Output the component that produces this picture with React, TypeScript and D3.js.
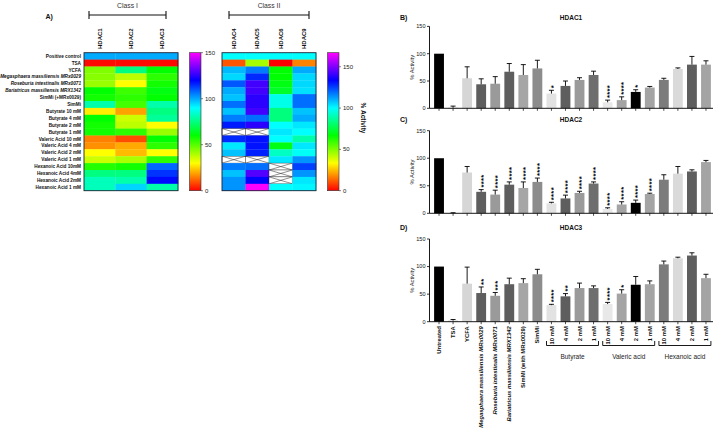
import React from 'react';
import * as d3 from 'd3';

// ---------- Heatmap data (panel A) ----------
const heatRows = [
  "Positive control", "TSA", "YCFA",
  "Megasphaera massiliensis MRx0029", "Roseburia intestinalis MRx0071", "Bariatricus massiliensis MRX1342",
  "SimMi (+MRx0029)", "SimMi",
  "Butyrate 10 mM", "Butyrate 4 mM", "Butyrate 2 mM", "Butyrate 1 mM",
  "Valeric Acid 10 mM", "Valeric Acid 4 mM", "Valeric Acid 2 mM", "Valeric Acid 1 mM",
  "Hexanoic Acid 10mM", "Hexanoic Acid 4mM", "Hexanoic Acid 2mM", "Hexanoic Acid 1 mM",
];
const italicRows = [3, 4, 5];
const classI = ["HDAC1", "HDAC2", "HDAC3"];
const classII = ["HDAC4", "HDAC5", "HDAC6", "HDAC9"];

const heatHDAC1 = [100, 1, 45, 44, 42, 60, 58, 80, 28, 60, 58, 58, 15, 17, 30, 36, 56, 75, 82, 82];
const heatHDAC2 = [100, 1, 75, 38, 30, 53, 55, 52, 19, 36, 38, 55, 9, 20, 22, 40, 58, 75, 80, 95];
const heatHDAC3 = [100, 1, 60, 55, 58, 62, 60, 80, 75, 78, 30, 42, 60, 55, 30, 55, 108, 114, 119, 80];
const heatHDAC4 = [100, 11, 109, 105, 122, 111, 108, 119, 108, 117, 130, null, 128, 103, 108, null, 117, 108, 114, 114];
const heatHDAC5 = [100, 45, 117, 128, 142, 142, 139, 139, 142, 119, 139, null, 131, 131, 129, null, 119, 144, 133, 167];
const heatHDAC6 = [100, 0, 67, 67, 69, 72, 97, 97, 83, 83, 100, 103, 100, 69, 92, 103, null, null, null, 100];
const heatHDAC9 = [100, 17, 111, 105, 105, 104, 119, 119, 108, 111, 103, 100, 89, 103, 99, 114, 125, 114, 103, 101];

const leftTicks = [0, 50, 100, 150];
const rightTicks = [0, 50, 100, 150];

// ---------- Bar chart data (panels B, C, D) ----------
const barLabels = [
  "Untreated", "TSA", "YCFA",
  "Megasphaera massiliensis MRx0029", "Roseburia intestinalis MRx0071", "Bariatricus massiliensis MRX1342",
  "SimMi (with MRx0029)", "SimMi",
  "10 mM", "4 mM", "2 mM", "1 mM",
  "10 mM", "4 mM", "2 mM", "1 mM",
  "10 mM", "4 mM", "2 mM", "1 mM",
];
const italicBars = [3, 4, 5];
const barColors = [
  "#000000", "#c8c8c8", "#d6d6d6", "#5e5e5e", "#9a9a9a", "#5e5e5e", "#a6a6a6", "#8c8c8c",
  "#e2e2e2", "#5e5e5e", "#9a9a9a", "#6e6e6e",
  "#e8e8e8", "#a4a4a4", "#000000", "#a4a4a4",
  "#7c7c7c", "#dadada", "#5e5e5e", "#a4a4a4",
];

const hdac1Mean = [100, 1, 55, 44, 45, 67, 61, 73, 27, 41, 52, 61, 11, 15, 30, 38, 52, 72, 80, 80];
const hdac1Err = [0, 3, 21, 10, 13, 15, 19, 15, 6, 9, 4, 7, 4, 6, 4, 2, 3, 2, 15, 7];
const hdac1Sig = ["", "", "", "", "", "", "", "", "*", "", "", "", "****", "****", "*", "", "", "", "", ""];

const hdac2Mean = [100, 0.5, 74, 39, 34, 52, 46, 57, 18, 27, 37, 54, 8, 16, 19, 35, 61, 72, 76, 93];
const hdac2Err = [0, 0.5, 11, 4, 8, 5, 11, 7, 2, 6, 3, 3, 2, 5, 5, 1.5, 9, 13, 3, 3];
const hdac2Sig = ["", "", "", "****", "****", "****", "****", "****", "****", "****", "****", "****", "****", "****", "****", "****", "", "", "", ""];

const hdac3Mean = [100, 2, 69, 52, 47, 68, 70, 86, 30, 46, 61, 61, 32, 51, 67, 68, 104, 115, 120, 79];
const hdac3Err = [0, 2, 30, 11, 6, 11, 8, 9, 1.5, 5, 9, 4, 3, 7, 15, 6, 6, 2, 5, 7];
const hdac3Sig = ["", "", "", "**", "***", "", "", "", "****", "**", "", "", "****", "*", "", "", "", "", "", ""];

const yTicks = [0, 50, 100, 150];
const groups = [
  { label: "Butyrate", from: 8, to: 11 },
  { label: "Valeric acid", from: 12, to: 15 },
  { label: "Hexanoic acid", from: 16, to: 19 },
];

const FONT = "'Liberation Sans', Arial, Helvetica, sans-serif";

const leftColor = (v: number) => d3.hsl(Math.max(0, Math.min(300, v * 2)), 1, 0.5).toString();
const rightColor = (v: number) => d3.hsl(Math.max(0, Math.min(300, v * 1.8)), 1, 0.5).toString();

function Heatmap({ cols, data, x, y, color }: any) {
  return (
    <g>
      {cols.map((c: string, ci: number) =>
        data[ci].map((v: number | null, ri: number) => {
          const x0 = x(c), y0 = y(ri), w = x.bandwidth(), h = y.bandwidth();
          if (v === null) {
            return (
              <g key={c + ri}>
                <rect x={x0} y={y0} width={w} height={h} fill="#fff" stroke="#222" strokeWidth={0.4} />
                <line x1={x0} y1={y0} x2={x0 + w} y2={y0 + h} stroke="#222" strokeWidth={0.5} />
                <line x1={x0} y1={y0 + h} x2={x0 + w} y2={y0} stroke="#222" strokeWidth={0.5} />
              </g>
            );
          }
          return <rect key={c + ri} x={x0} y={y0} width={w + 0.3} height={h + 0.3} fill={color(v)} />;
        })
      )}
      <rect x={x.range()[0]} y={y.range()[0]} width={x.range()[1] - x.range()[0]} height={y.range()[1] - y.range()[0]}
        fill="none" stroke="#223" strokeWidth={0.9} />
    </g>
  );
}

function ColorBar({ id, x, w, scale, color, ticks }: any) {
  const [d0, d1] = scale.domain();
  const stops = d3.range(0, 31).map((i) => i / 30);
  const [yb, yt] = scale.range();
  return (
    <g>
      <defs>
        <linearGradient id={id} x1="0" y1="1" x2="0" y2="0">
          {stops.map((s) => (
            <stop key={s} offset={s} stopColor={color(d0 + s * (d1 - d0))} />
          ))}
        </linearGradient>
      </defs>
      <rect x={x} y={yt} width={w} height={yb - yt} fill={`url(#${id})`} stroke="#333" strokeWidth={0.6} />
      {ticks.map((t: number) => (
        <g key={t}>
          <line x1={x + w} x2={x + w + 2} y1={scale(t)} y2={scale(t)} stroke="#333" strokeWidth={0.6} />
          <text x={x + w + 4} y={scale(t)} dy="0.35em" fontSize={6} fill="#222" fontFamily={FONT}>{t}</text>
        </g>
      ))}
    </g>
  );
}

function BarPanel({ y0, y150, means, errs, sig, title, letter, headY, showLabels }: any) {
  const idx = d3.range(barLabels.length).map(String);
  const x = d3.scaleBand<string>().domain(idx).range([432, 713]).paddingInner(0.3).paddingOuter(0.15);
  const y = d3.scaleLinear().domain([0, 150]).range([y0, y150]);
  const axisX = 429.5;
  return (
    <g fontFamily={FONT}>
      <text x={400} y={headY} fontSize={7} fontWeight="bold" fill="#111">{letter}</text>
      <text x={571} y={headY} fontSize={6.5} fontWeight="bold" fill="#111" textAnchor="middle">{title}</text>
      <text transform={`translate(411.5,${(y0 + y150) / 2}) rotate(-90)`} textAnchor="middle" dy="0.35em"
        fontSize={5.8} fill="#111">% Activity</text>
      {means.map((m: number, i: number) => {
        const cx = (x(String(i)) as number) + x.bandwidth() / 2;
        const topE = y(m + errs[i]);
        return (
          <g key={i}>
            <rect x={x(String(i))} y={y(m)} width={x.bandwidth()} height={y0 - y(m)} fill={barColors[i]} />
            {errs[i] > 0 && (
              <g stroke="#000" strokeWidth={0.9}>
                <line x1={cx} x2={cx} y1={y(m)} y2={topE} />
                <line x1={cx - 2.5} x2={cx + 2.5} y1={topE} y2={topE} />
              </g>
            )}
            {sig[i] && (
              <text transform={`translate(${cx},${topE - 2}) rotate(-90)`} dy="0.62em" fontSize={7.5}
                fontWeight="bold" letterSpacing={0.4} fill="#000">{sig[i]}</text>
            )}
            <line x1={cx} x2={cx} y1={y0} y2={y0 + 2.5} stroke="#000" strokeWidth={0.7} />
            {showLabels && (
              <text transform={`translate(${cx},${y0 + 4.5}) rotate(-90)`} textAnchor="end" dy="0.35em"
                fontSize={5.9} fontWeight="bold" fontStyle={italicBars.includes(i) ? 'italic' : 'normal'}
                fill="#111">{barLabels[i]}</text>
            )}
          </g>
        );
      })}
      <line x1={axisX} x2={713} y1={y0} y2={y0} stroke="#000" strokeWidth={0.9} />
      <line x1={axisX} x2={axisX} y1={y0} y2={y150} stroke="#000" strokeWidth={0.9} />
      {yTicks.map((t) => (
        <g key={t}>
          <line x1={axisX - 2.5} x2={axisX} y1={y(t)} y2={y(t)} stroke="#000" strokeWidth={0.8} />
          <text x={axisX - 4} y={y(t)} dy="0.35em" textAnchor="end" fontSize={5.5} fill="#111">{t}</text>
        </g>
      ))}
      {showLabels && groups.map((g) => {
        const xa = x(String(g.from)) as number;
        const xb = (x(String(g.to)) as number) + x.bandwidth();
        const by = 345.5;
        return (
          <g key={g.label}>
            <path d={`M${xa},${by - 4.5}V${by}H${xb}V${by - 4.5}`} fill="none" stroke="#000" strokeWidth={0.9} />
            <text x={(xa + xb) / 2} y={358.5} textAnchor="middle" fontSize={6.5} fill="#222">{g.label}</text>
          </g>
        );
      })}
    </g>
  );
}

export default function App() {
  const rowY = d3.scaleBand<number>().domain(d3.range(heatRows.length)).range([52.7, 190.7]);
  const leftX = d3.scaleBand<string>().domain(classI).range([84, 178]);
  const rightX = d3.scaleBand<string>().domain(classII).range([222, 316]);
  const leftScale = d3.scaleLinear().domain([0, 150]).range([190.7, 52.7]);
  const rightScale = d3.scaleLinear().domain([0, 167]).range([190.7, 52.7]);

  const bracket = (xa: number, xb: number, label: string) => (
    <g>
      <text x={(xa + xb) / 2} y={7.5} textAnchor="middle" fontSize={6.8} fill="#333">{label}</text>
      <path d={`M${xa},11V19M${xa},15H${xb}M${xb},11V19`} stroke="#111" strokeWidth={1.1} fill="none" />
    </g>
  );

  return (
    <div style={{ position: 'absolute', left: 0, top: 0 }}>
      <svg width={716} height={430} style={{ display: 'block', background: '#fff' }} fontFamily={FONT}>
        <rect width={716} height={430} fill="#fff" />
        {/* Panel A */}
        <text x={45.5} y={18.5} fontSize={7} fontWeight="bold" fill="#111">A)</text>
        {bracket(89, 166, "Class I")}
        {bracket(229, 309, "Class II")}
        {classI.map((c) => (
          <text key={c} transform={`translate(${(leftX(c) as number) + leftX.bandwidth() / 2},49) rotate(-90)`}
            dy="0.35em" fontSize={6} fontWeight="bold" fill="#111">{c}</text>
        ))}
        {classII.map((c) => (
          <text key={c} transform={`translate(${(rightX(c) as number) + rightX.bandwidth() / 2},49) rotate(-90)`}
            dy="0.35em" fontSize={6} fontWeight="bold" fill="#111">{c}</text>
        ))}
        {heatRows.map((r, i) => (
          <text key={r} x={81} y={(rowY(i) as number) + rowY.bandwidth() / 2} dy="0.35em" textAnchor="end"
            fontSize={4.7} fontWeight="bold" fontStyle={italicRows.includes(i) ? 'italic' : 'normal'} fill="#111">{r}</text>
        ))}
        <Heatmap cols={classI} data={[heatHDAC1, heatHDAC2, heatHDAC3]} x={leftX} y={rowY} color={leftColor} />
        <Heatmap cols={classII} data={[heatHDAC4, heatHDAC5, heatHDAC6, heatHDAC9]} x={rightX} y={rowY} color={rightColor} />
        <ColorBar id="cbL" x={189.5} w={11.5} scale={leftScale} color={leftColor} ticks={leftTicks} />
        <ColorBar id="cbR" x={327.5} w={11.5} scale={rightScale} color={rightColor} ticks={rightTicks} />
        <text transform="translate(363,118) rotate(90)" textAnchor="middle" dy="0.35em" fontSize={6.5}
          fontWeight="bold" fill="#111">% Activity</text>

        {/* Panels B, C, D */}
        <BarPanel y0={108.3} y150={26.4} means={hdac1Mean} errs={hdac1Err} sig={hdac1Sig} title="HDAC1" letter="B)" headY={19.5} showLabels={false} />
        <BarPanel y0={213.3} y150={130.7} means={hdac2Mean} errs={hdac2Err} sig={hdac2Sig} title="HDAC2" letter="C)" headY={122} showLabels={false} />
        <BarPanel y0={321.7} y150={239} means={hdac3Mean} errs={hdac3Err} sig={hdac3Sig} title="HDAC3" letter="D)" headY={229.5} showLabels={true} />
      </svg>
    </div>
  );
}
